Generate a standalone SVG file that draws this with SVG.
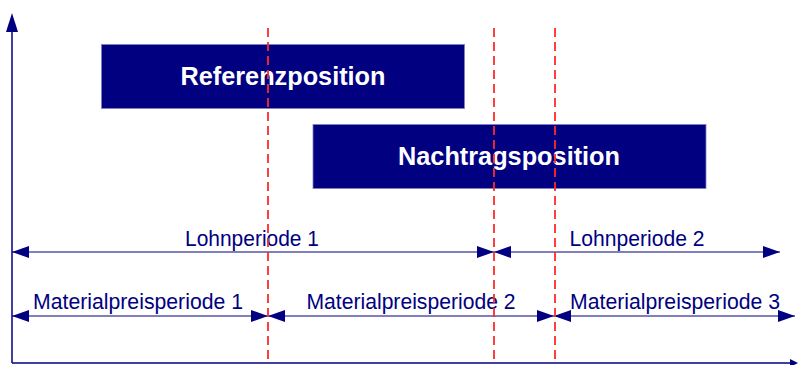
<svg xmlns="http://www.w3.org/2000/svg" width="798" height="365" viewBox="0 0 798 365">
  <style>
    .axis { stroke: #000080; stroke-width: 1.5; fill: none; }
    .span { stroke: #000080; stroke-width: 1.2; fill: none; marker-start: url(#head); marker-end: url(#head); }
    .cut { stroke: #ff2a2a; stroke-width: 1.8; stroke-dasharray: 9 5; fill: none; }
    .box { fill: #000080; stroke: #8080c0; stroke-width: 0.8; }
    .boxlabel { font-family: "Liberation Sans", Arial, sans-serif; font-weight: bold; font-size: 26.5px; fill: #ffffff; text-anchor: middle; }
    .label { font-family: "Liberation Sans", Arial, sans-serif; font-size: 22.5px; fill: #000080; text-anchor: middle; }
  </style>
  <defs>
    <marker id="head" markerUnits="userSpaceOnUse" markerWidth="17" markerHeight="12" refX="17" refY="6" orient="auto-start-reverse" viewBox="0 0 17 12">
      <path d="M0,0 L17,6 L0,12 Z" fill="#000080"/>
    </marker>
  </defs>

  <rect width="798" height="365" fill="#ffffff"/>

  <!-- axes -->
  <g id="axes">
    <path class="axis" d="M12,363 V30"/>
    <path d="M12,13 L18,32 L6,32 Z" fill="#000080"/>
    <path class="axis" d="M12,363 H792"/>
    <path d="M798,363 L790,359 L790,367 Z" fill="#000080"/>
  </g>

  <!-- positions -->
  <g id="referenzposition">
    <rect class="box" x="101.5" y="44.5" width="363" height="64"/>
    <text class="boxlabel" x="283" y="84.5" textLength="205" lengthAdjust="spacingAndGlyphs">Referenzposition</text>
  </g>
  <g id="nachtragsposition">
    <rect class="box" x="313" y="124.5" width="393" height="64"/>
    <text class="boxlabel" x="509" y="165" textLength="222" lengthAdjust="spacingAndGlyphs">Nachtragsposition</text>
  </g>

  <!-- period spans -->
  <g id="connectors">
    <path class="span" d="M12,252 H494"/>
    <path class="span" d="M494,252 H780"/>
    <path class="span" d="M12,316 H268"/>
    <path class="span" d="M268,316 H554"/>
    <path class="span" d="M554,316 H795"/>
  </g>

  <g id="lohnperiode-1"><text class="label" x="252" y="246" textLength="134" lengthAdjust="spacingAndGlyphs">Lohnperiode 1</text></g>
  <g id="lohnperiode-2"><text class="label" x="637" y="246" textLength="135" lengthAdjust="spacingAndGlyphs">Lohnperiode 2</text></g>
  <g id="materialpreisperiode-1"><text class="label" x="138" y="309" textLength="210" lengthAdjust="spacingAndGlyphs">Materialpreisperiode 1</text></g>
  <g id="materialpreisperiode-2"><text class="label" x="411" y="309" textLength="209" lengthAdjust="spacingAndGlyphs">Materialpreisperiode 2</text></g>
  <g id="materialpreisperiode-3"><text class="label" x="675" y="309" textLength="210" lengthAdjust="spacingAndGlyphs">Materialpreisperiode 3</text></g>

  <!-- period boundaries -->
  <g id="boundaries">
    <path class="cut" d="M268,28 V363"/>
    <path class="cut" d="M494,28 V363"/>
    <path class="cut" d="M555,28 V363"/>
  </g>
</svg>
